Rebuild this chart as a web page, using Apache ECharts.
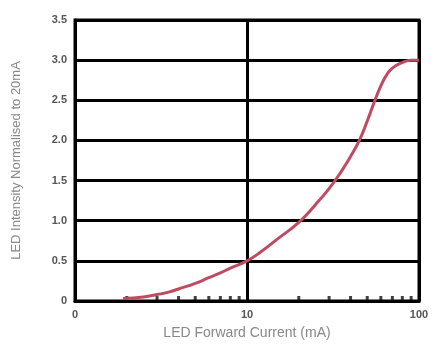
<!DOCTYPE html>
<html>
<head>
<meta charset="utf-8">
<script src="https://cdn.jsdelivr.net/npm/echarts@6/dist/echarts.min.js"></script>
<style>html,body{margin:0;padding:0;background:#fff;}#c{width:437px;height:345px;}</style>
</head>
<body>
<div id="c"></div>
<script>
var currentMA = [1.9, 2.5, 3, 3.5, 4, 5, 6, 7, 8, 10, 12, 15, 20, 25, 30, 35, 40, 45, 50, 55, 60, 65, 70, 80, 90, 100];
var intensity = [0.03, 0.05, 0.08, 0.11, 0.15, 0.22, 0.29, 0.35, 0.41, 0.5, 0.61, 0.77, 0.98, 1.2, 1.4, 1.6, 1.8, 2.0, 2.24, 2.48, 2.68, 2.82, 2.9, 2.97, 3.0, 3.0];
var minorTickPos = [2, 3, 4, 5, 6, 7, 8, 9, 20, 30, 40, 50, 60, 70, 80, 90];
var xTickLabels = {1: '0', 10: '10', 100: '100'};

var chart = echarts.init(document.getElementById('c'));
chart.setOption({
  animation: false,
  grid: {left: 75, right: 18, top: 20, bottom: 42, show: true, borderColor: '#000', borderWidth: 3},
  xAxis: {
    type: 'log', logBase: 10, min: 1, max: 100,
    name: 'LED Forward Current (mA)', nameLocation: 'middle', nameGap: 25,
    nameTextStyle: {fontFamily: 'Liberation Sans', fontSize: 14, color: '#888'},
    axisLine: {lineStyle: {color: '#000', width: 3}},
    axisTick: {show: false},
    axisLabel: {formatter: function (v) { return xTickLabels[v] !== undefined ? xTickLabels[v] : ''; },
      fontFamily: 'Liberation Sans', fontWeight: 'bold', fontSize: 11, color: '#555', margin: 8},
    splitLine: {show: true, lineStyle: {color: '#000', width: 3}}
  },
  yAxis: {
    type: 'value', min: 0, max: 3.5, interval: 0.5,
    name: 'LED Intensity Normalised to 20mA', nameLocation: 'middle', nameGap: 52,
    nameTextStyle: {fontFamily: 'Liberation Sans', fontSize: 13, color: '#888'},
    axisLine: {show: true, lineStyle: {color: '#000', width: 3}},
    axisTick: {show: false},
    axisLabel: {formatter: function (v) { return v === 0 ? '0' : v.toFixed(1); },
      fontFamily: 'Liberation Sans', fontWeight: 'bold', fontSize: 11, color: '#555', margin: 8},
    splitLine: {show: true, lineStyle: {color: '#000', width: 3}}
  },
  series: [
    {
      type: 'scatter', silent: true,
      data: minorTickPos.map(function (v) { return [v, 0]; }),
      symbol: 'rect', symbolSize: [3, 4], symbolOffset: [0, -3],
      itemStyle: {color: '#111'}, z: 3
    },
    {
      type: 'line', smooth: 0.5, showSymbol: false,
      data: currentMA.map(function (v, i) { return [v, intensity[i]]; }),
      lineStyle: {color: '#c04a5f', width: 3}, z: 4
    }
  ]
});
</script>
</body>
</html>
